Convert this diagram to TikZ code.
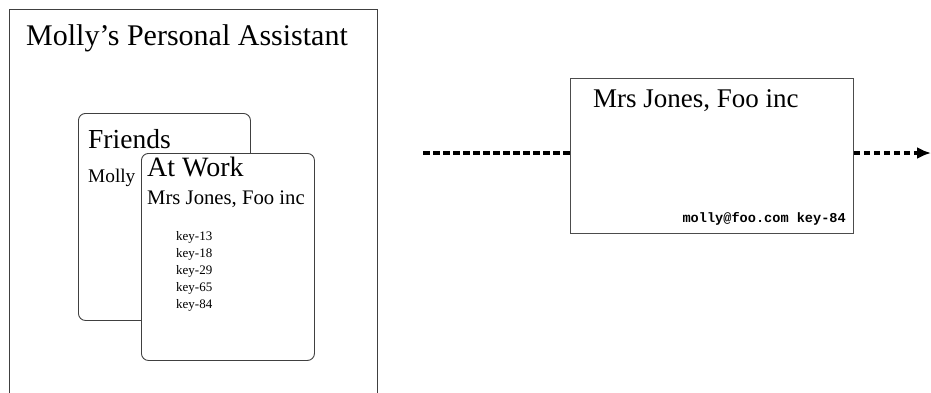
\documentclass[tikz,border=0pt]{standalone}
\usepackage{fontspec}
\setmainfont{Liberation Serif}
\setmonofont{Liberation Mono}
\usetikzlibrary{arrows.meta,positioning}
\tikzset{
  card/.style={draw=black!75,line width=0.9pt,rounded corners=7pt,fill=white,anchor=north west,inner sep=0pt},
  plainbox/.style={draw=black!70,line width=0.9pt,anchor=north west,inner sep=0pt},
  lbl/.style={anchor=base west,inner sep=0pt},
  flow/.style={line width=3.2pt,dash pattern=on 6.5pt off 3.5pt}
}
\begin{document}
\begin{tikzpicture}[x=1pt,y=-1pt]
    \useasboundingbox (0,0) rectangle (931,392);
    % Assistant frame
    \draw[draw=black!75,line width=0.9pt] (9,400) -- (9,9) -- (377,9) -- (377,400);
    \node[lbl,font=\fontsize{30}{34}\selectfont] (title) at (26,45) {Molly's Personal Assistant};
    % Friends card
    \node[card,minimum width=172pt,minimum height=207pt] (friends) at (78,113) {};
    \node[lbl,font=\fontsize{27.5}{31}\selectfont] (friendsname) at (88,148) {Friends};
    \node[lbl,font=\fontsize{19.3}{23}\selectfont] (molly) at (88,182) {Molly};
    % At Work card
    \node[card,minimum width=173pt,minimum height=207pt] (work) at (141,153) {};
    \node[lbl,font=\fontsize{28}{32}\selectfont] (workname) at (147,176) {At Work};
    \node[lbl,font=\fontsize{20.7}{24}\selectfont] (jones) at (147,204) {Mrs Jones, Foo inc};
    % Keys
    \foreach \k [count=\i from 0] in {13,18,29,65,84}
      \node[lbl,font=\fontsize{13}{15}\selectfont] (key\k) at (176,240+17*\i) {key-\k};
    % Message card
    \node[plainbox,minimum width=283pt,minimum height=155pt] (msg) at (570,78) {};
    \node[lbl,font=\fontsize{27}{31}\selectfont] (msgname) at (593,107) {Mrs Jones, Foo inc};
    \node[anchor=base east,inner sep=0pt,font=\fontsize{13.6}{16}\selectfont\ttfamily\bfseries] (addr) at (846,222) {molly@foo.com key-84};
    % Flow in and out
    \coordinate (src) at (423,153);
    \coordinate (dst) at (931,153);
    \draw[flow] (src) -- (msg.west |- src);
    \draw[flow,-{Latex[length=14pt,width=12pt]}] (msg.east |- dst) -- (dst);
\end{tikzpicture}
\end{document}
